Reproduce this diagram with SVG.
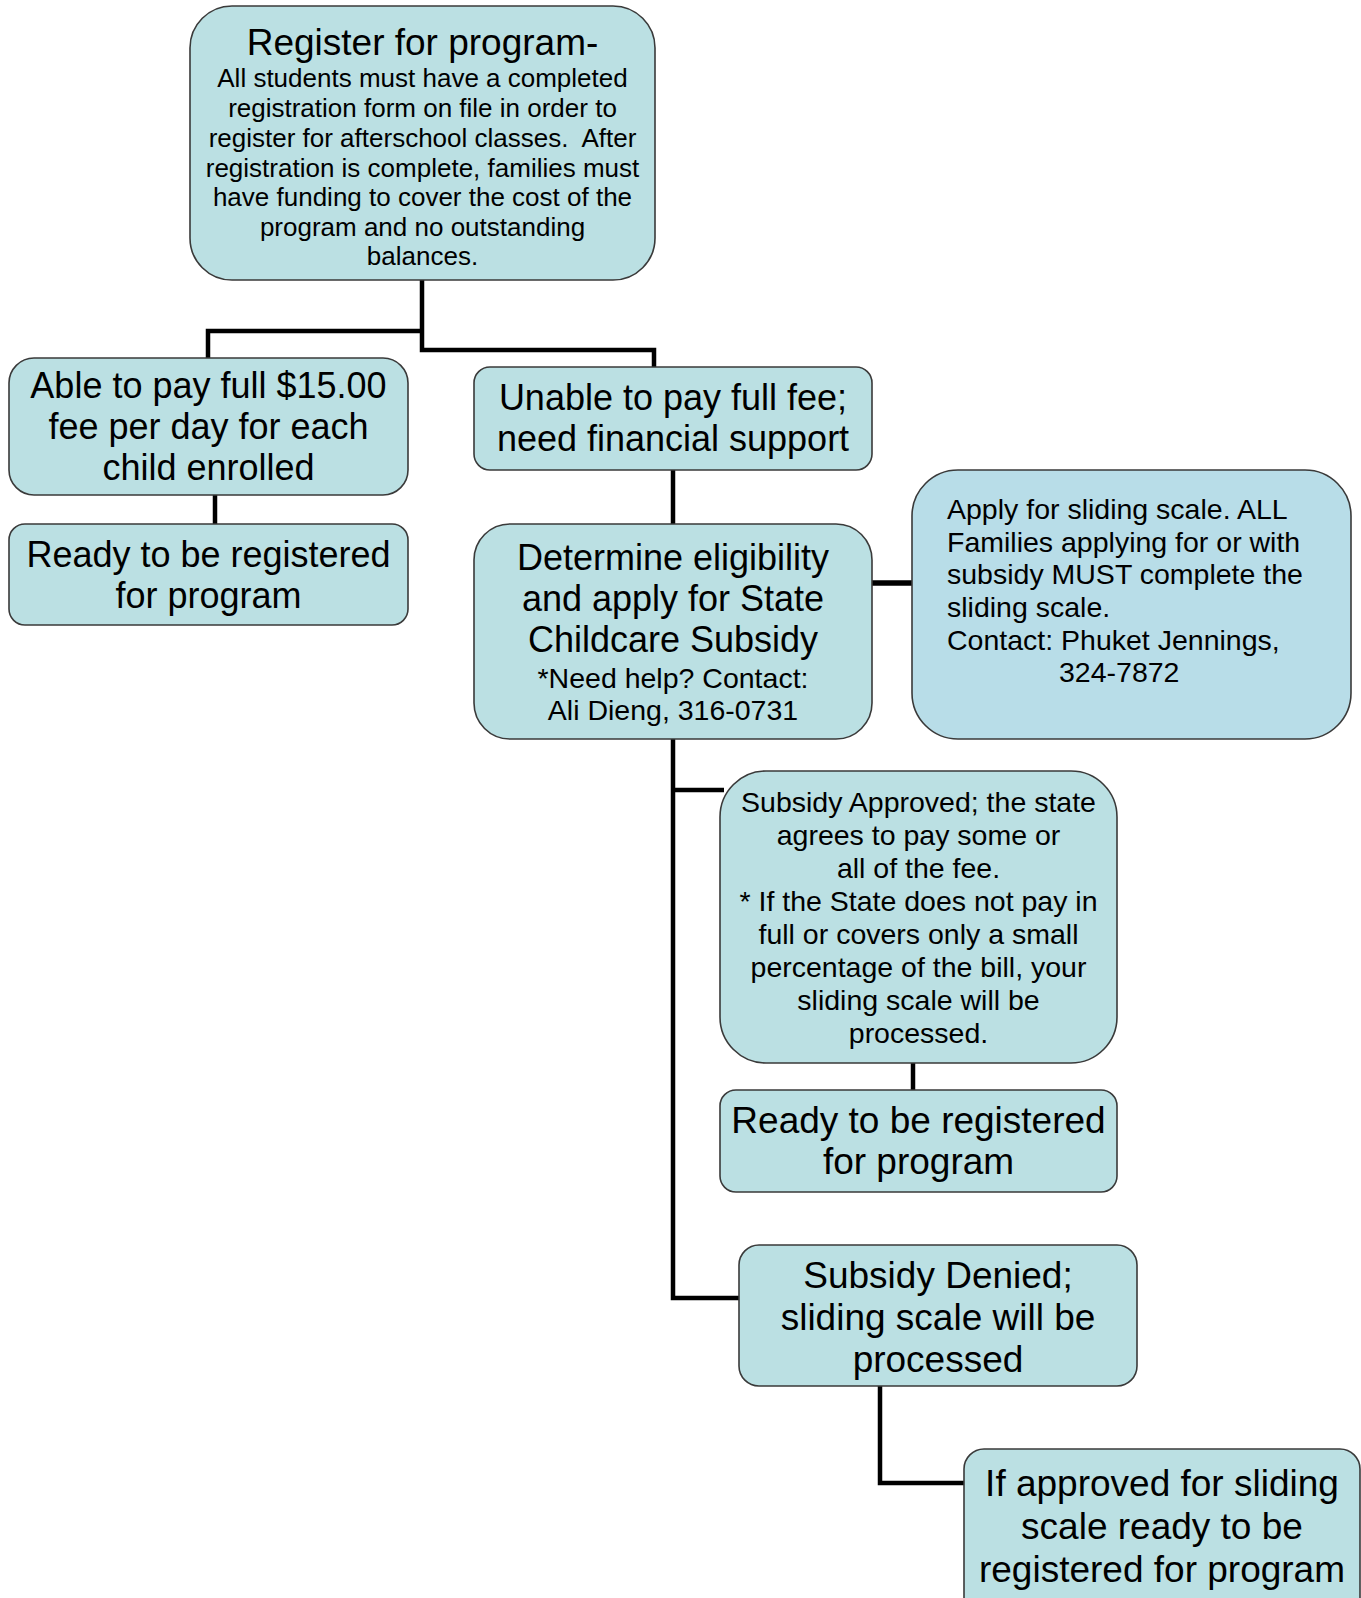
<svg xmlns="http://www.w3.org/2000/svg" width="1361" height="1598" viewBox="0 0 1361 1598">
<style>
.n{fill:#bbe0e3;stroke:#3a3a3a;stroke-width:1.6}
.s{fill:#b8dde8;stroke:#3a3a3a;stroke-width:1.6}
text{font-family:"Liberation Sans",Arial,sans-serif;fill:#000}
.c{text-anchor:middle}
.f36{font-size:36px}
.f37{font-size:37px}
.f28{font-size:28.5px}
.f26{font-size:26px}
.e{fill:none;stroke:#000;stroke-width:4.5;stroke-linejoin:miter}
</style>
<rect width="1361" height="1598" fill="#fff"/>
<g id="connectors">
<path class="e" d="M422 280 V350 H654 V367"/>
<path class="e" d="M422 331 H208 V358"/>
<path class="e" d="M215 495 V524"/>
<path class="e" d="M673 470 V524"/>
<path class="e" d="M872 583 H912" style="stroke-width:5.5"/>
<path class="e" d="M673 739 V1298 H739"/>
<path class="e" d="M673 790 H724"/>
<path class="e" d="M913 1063 V1090"/>
<path class="e" d="M880 1386 V1483 H964"/>
</g>
<g id="register">
<rect class="n" x="190" y="6" width="465" height="274" rx="42"/>
<text class="c f37" x="422.5" y="55">Register for program-</text>
<text class="c f26" x="422.5" y="87">All students must have a completed</text>
<text class="c f26" x="422.5" y="117">registration form on file in order to</text>
<text class="c f26" x="422.5" y="147">register for afterschool classes.&#160; After</text>
<text class="c f26" x="422.5" y="177">registration is complete, families must</text>
<text class="c f26" x="422.5" y="206">have funding to cover the cost of the</text>
<text class="c f26" x="422.5" y="236">program and no outstanding</text>
<text class="c f26" x="422.5" y="265">balances.</text>
</g>
<g id="able">
<rect class="n" x="9" y="358" width="399" height="137" rx="25"/>
<text class="c f36" x="208.5" y="398">Able to pay full $15.00</text>
<text class="c f36" x="208.5" y="439">fee per day for each</text>
<text class="c f36" x="208.5" y="480">child enrolled</text>
</g>
<g id="ready1">
<rect class="n" x="9" y="524" width="399" height="101" rx="16"/>
<text class="c f36" x="208.5" y="567">Ready to be registered</text>
<text class="c f36" x="208.5" y="608">for program</text>
</g>
<g id="unable">
<rect class="n" x="474" y="367" width="398" height="103" rx="16"/>
<text class="c f36" x="673" y="410">Unable to pay full fee;</text>
<text class="c f36" x="673" y="451">need financial support</text>
</g>
<g id="determine">
<rect class="n" x="474" y="524" width="398" height="215" rx="36"/>
<text class="c f36" x="673" y="570">Determine eligibility</text>
<text class="c f36" x="673" y="611">and apply for State</text>
<text class="c f36" x="673" y="652">Childcare Subsidy</text>
<text class="c f28" x="673" y="688">*Need help? Contact:</text>
<text class="c f28" x="673" y="720">Ali Dieng, 316-0731</text>
</g>
<g id="sliding">
<rect class="s" x="912" y="470" width="439" height="269" rx="46"/>
<text class="f28" x="947" y="519">Apply for sliding scale. ALL</text>
<text class="f28" x="947" y="552">Families applying for or with</text>
<text class="f28" x="947" y="584">subsidy MUST complete the</text>
<text class="f28" x="947" y="617">sliding scale.</text>
<text class="f28" x="947" y="650">Contact: Phuket Jennings,</text>
<text class="f28" x="1059" y="682">324-7872</text>
</g>
<g id="approved">
<rect class="n" x="720" y="771" width="397" height="292" rx="46"/>
<text class="c f28" x="918.5" y="812">Subsidy Approved; the state</text>
<text class="c f28" x="918.5" y="845">agrees to pay some or</text>
<text class="c f28" x="918.5" y="878">all of the fee.</text>
<text class="c f28" x="918.5" y="911">* If the State does not pay in</text>
<text class="c f28" x="918.5" y="944">full or covers only a small</text>
<text class="c f28" x="918.5" y="977">percentage of the bill, your</text>
<text class="c f28" x="918.5" y="1010">sliding scale will be</text>
<text class="c f28" x="918.5" y="1043">processed.</text>
</g>
<g id="ready2">
<rect class="n" x="720" y="1090" width="397" height="102" rx="16"/>
<text class="c f37" x="918.5" y="1133">Ready to be registered</text>
<text class="c f37" x="918.5" y="1174">for program</text>
</g>
<g id="denied">
<rect class="n" x="739" y="1245" width="398" height="141" rx="20"/>
<text class="c f37" x="938" y="1288">Subsidy Denied;</text>
<text class="c f37" x="938" y="1330">sliding scale will be</text>
<text class="c f37" x="938" y="1372">processed</text>
</g>
<g id="ifapproved">
<rect class="n" x="964" y="1449" width="396" height="180" rx="20"/>
<text class="c f37" x="1162" y="1496">If approved for sliding</text>
<text class="c f37" x="1162" y="1539">scale ready to be</text>
<text class="c f37" x="1162" y="1582">registered for program</text>
</g>
</svg>
